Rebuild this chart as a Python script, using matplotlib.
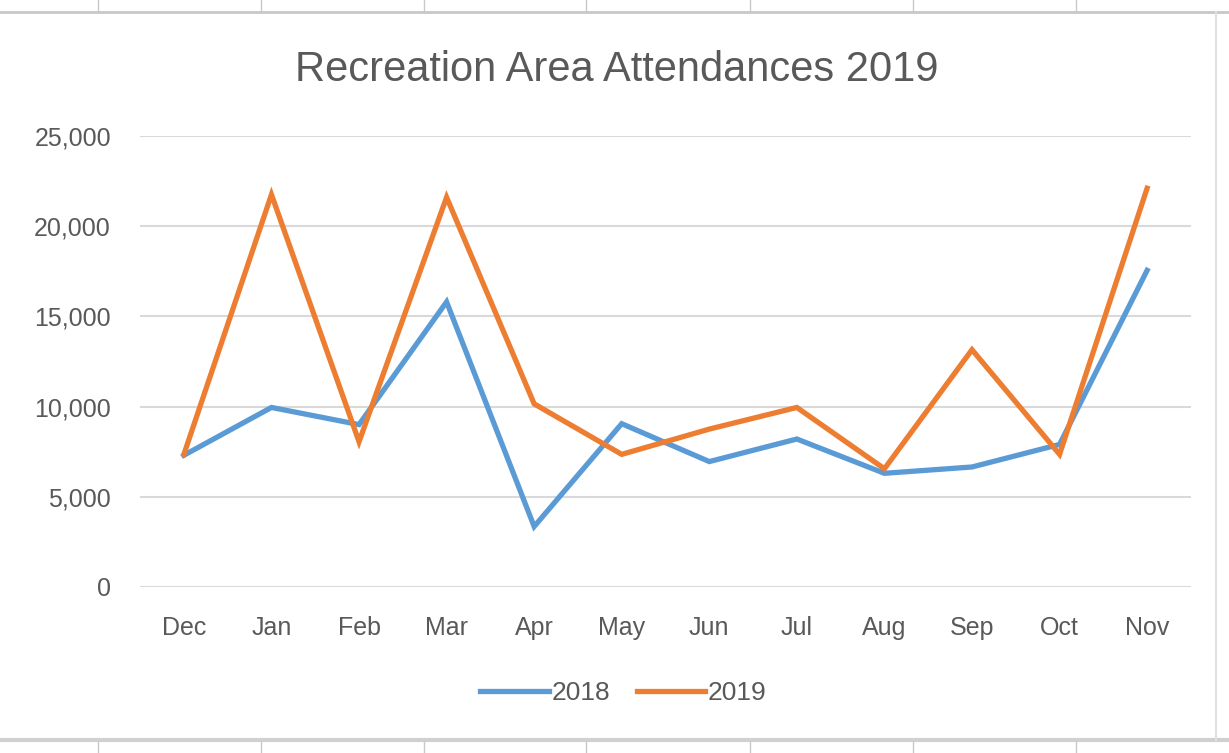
import matplotlib
matplotlib.use('Agg')
import matplotlib.pyplot as plt
from matplotlib.lines import Line2D
from matplotlib.ticker import FuncFormatter

# data
months = ['Dec', 'Jan', 'Feb', 'Mar', 'Apr', 'May', 'Jun', 'Jul', 'Aug', 'Sep', 'Oct', 'Nov']
att_2018 = [7300, 9950, 9000, 15800, 3350, 9050, 6950, 8200, 6300, 6650, 7900, 17550]
att_2019 = [7350, 21750, 8050, 21600, 10150, 7350, 8750, 9950, 6550, 13150, 7350, 22100]
y_ticks = [0, 5000, 10000, 15000, 20000, 25000]

plt.rcParams['font.family'] = ['Liberation Sans', 'DejaVu Sans']

fig = plt.figure(figsize=(12.29, 7.53), dpi=100)
ax = fig.add_axes([0.114, 0.2205, 0.855, 0.599])

x = range(len(months))
ax.plot(x, att_2018, color='#5B9BD5', lw=3.8, label='2018', solid_joinstyle='miter')
ax.plot(x, att_2019, color='#ED7D31', lw=3.8, label='2019', solid_joinstyle='miter')

ax.set_xlim(-0.5, len(months) - 0.5)
ax.set_ylim(0, 25000)
ax.set_xticks(list(x))
ax.set_xticklabels(months)
ax.set_yticks(y_ticks)
ax.yaxis.set_major_formatter(FuncFormatter(lambda v, p: f'{int(v):,}'))
ax.grid(axis='y', color='#D9D9D9', lw=1.5)
ax.set_axisbelow(True)
for s in ax.spines.values():
    s.set_visible(False)
ax.tick_params(length=0, labelsize=18, colors='#595959')
ax.tick_params(axis='x', pad=21)
ax.tick_params(axis='y', pad=21)

fig.text(0.502, 0.907, 'Recreation Area Attendances 2019', ha='center', va='center',
         fontsize=30, color='#595959')

ax.legend(loc='center', bbox_to_anchor=(0.46, -0.235), ncol=2, frameon=False,
          fontsize=19, handlelength=2.6, handletextpad=0.1, columnspacing=1.0,
          labelcolor='#595959')

# spreadsheet cell borders around the chart
grid_x = [98, 261, 424, 586, 750, 913, 1076]
fig.add_artist(Line2D([0, 1], [1 - 12 / 753] * 2, color='#C8C8C8', lw=2))
fig.add_artist(Line2D([0, 1], [1 - 740 / 753] * 2, color='#D0D0D0', lw=3))
fig.add_artist(Line2D([1216 / 1229] * 2, [1 - 12 / 753, 1 - 740 / 753], color='#E0E0E0', lw=1.5))
for gx in grid_x:
    fig.add_artist(Line2D([gx / 1229] * 2, [1, 1 - 12 / 753], color='#C8C8C8', lw=1))
    fig.add_artist(Line2D([gx / 1229] * 2, [1 - 742 / 753, 0], color='#C8C8C8', lw=1))

fig.savefig('out.png', dpi=100)
